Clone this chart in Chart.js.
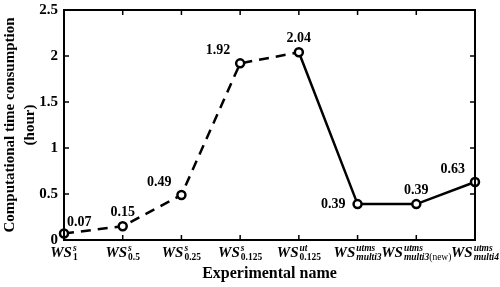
<!DOCTYPE html>
<html>
<head>
<meta charset="utf-8">
<script src="https://cdn.jsdelivr.net/npm/chart.js@4/dist/chart.umd.min.js"></script>
<style>
  html, body { margin: 0; padding: 0; background: #fff; }
  #wrap { width: 500px; height: 287px; }
</style>
</head>
<body>
<div id="wrap"><canvas id="timeChart"></canvas></div>
<script>
// experiment names: base text, superscript, subscript
const nameBase = ['WS', 'WS', 'WS', 'WS', 'WS', 'WS', 'WS', 'WS'];
const nameSup = ['s', 's', 's', 's', 'ut', 'utms', 'utms', 'utms'];
const nameSub = ['1', '0.5', '0.25', '0.125', '0.125', 'multi3', 'multi3(new)', 'multi4'];

// computational time (hour)
const hours = [0.07, 0.15, 0.49, 1.92, 2.04, 0.39, 0.39, 0.63];
const valueText = ['0.07', '0.15', '0.49', '1.92', '2.04', '0.39', '0.39', '0.63'];
// where each value label sits relative to its point
const labelSide = ['right', 'top', 'topleft', 'topleft', 'top', 'left', 'top', 'topleft'];

const yTicks = [0, 0.5, 1, 1.5, 2, 2.5];
const yTickText = ['0', '0.5', '1', '1.5', '2', '2.5'];
const dashedUntil = 4; // segments before this index are dashed

const SERIF = '"Liberation Serif", "DejaVu Serif", serif';

const boxPlugin = {
  id: 'box',
  afterDraw(chart) {
    const { ctx, chartArea: a, scales } = chart;
    ctx.save();
    ctx.strokeStyle = '#000';
    ctx.lineWidth = 2;
    ctx.strokeRect(a.left, a.top, a.right - a.left, a.bottom - a.top);
    ctx.lineWidth = 1.5;
    ctx.beginPath();
    scales.x.ticks.forEach((t, i) => {
      const x = scales.x.getPixelForTick(i);
      ctx.moveTo(x, a.bottom); ctx.lineTo(x, a.bottom - 5);
      ctx.moveTo(x, a.top); ctx.lineTo(x, a.top + 5);
    });
    scales.y.ticks.forEach((t, i) => {
      const y = scales.y.getPixelForTick(i);
      ctx.moveTo(a.left, y); ctx.lineTo(a.left + 5, y);
      ctx.moveTo(a.right, y); ctx.lineTo(a.right - 5, y);
    });
    ctx.stroke();
    ctx.restore();
  }
};

function subParts(s) {
  const parts = [];
  const re = /(\([a-z]+\))|([a-z]+[0-9]*)|([0-9.]+)/g;
  let m;
  while ((m = re.exec(s))) {
    if (m[1]) parts.push({ t: m[1], f: '9.5px ' + SERIF });
    else if (m[2]) parts.push({ t: m[2], f: 'italic bold 9.5px ' + SERIF });
    else parts.push({ t: m[3], f: 'bold 9.5px ' + SERIF });
  }
  return parts;
}

const nameLabelPlugin = {
  id: 'nameLabels',
  afterDraw(chart) {
    const { ctx, scales, chartArea: a } = chart;
    ctx.save();
    ctx.fillStyle = '#000';
    ctx.textBaseline = 'alphabetic';
    ctx.textAlign = 'left';
    const base = a.bottom + 17;
    nameBase.forEach((b, i) => {
      const x = scales.x.getPixelForValue(i);
      const fBase = 'italic bold 15px ' + SERIF;
      const fSup = 'italic bold 9.5px ' + SERIF;
      ctx.font = fBase;
      const wb = ctx.measureText(b).width;
      ctx.font = fSup;
      const ws = ctx.measureText(nameSup[i]).width;
      const parts = subParts(nameSub[i]);
      let wsub = 0;
      parts.forEach(p => { ctx.font = p.f; p.w = ctx.measureText(p.t).width; wsub += p.w; });
      let x0 = x - (wb + Math.max(ws, wsub) + 1) / 2;
      ctx.font = fBase;
      ctx.fillText(b, x0, base);
      x0 += wb + 1;
      ctx.font = fSup;
      ctx.fillText(nameSup[i], x0, base - 6);
      let xs = x0;
      parts.forEach(p => { ctx.font = p.f; ctx.fillText(p.t, xs, base + 3); xs += p.w; });
    });
    ctx.restore();
  }
};

const valueLabelPlugin = {
  id: 'valueLabels',
  afterDatasetsDraw(chart) {
    const { ctx } = chart;
    const meta = chart.getDatasetMeta(0);
    ctx.save();
    ctx.fillStyle = '#000';
    ctx.font = 'bold 14px ' + SERIF;
    meta.data.forEach((pt, i) => {
      const side = labelSide[i];
      let x = pt.x, y = pt.y;
      if (side === 'right') { ctx.textAlign = 'left'; ctx.textBaseline = 'bottom'; x += 3; y -= 4; }
      else if (side === 'top') { ctx.textAlign = 'center'; ctx.textBaseline = 'bottom'; y -= 7; }
      else if (side === 'topleft') { ctx.textAlign = 'right'; ctx.textBaseline = 'bottom'; x -= 10; y -= 6; }
      else if (side === 'left') { ctx.textAlign = 'right'; ctx.textBaseline = 'middle'; x -= 12; }
      ctx.fillText(valueText[i], x, y);
    });
    ctx.restore();
  }
};

new Chart(document.getElementById('timeChart'), {
  type: 'line',
  data: {
    labels: nameBase.map((b, i) => b + '_' + nameSub[i] + '^' + nameSup[i]),
    datasets: [{
      data: hours,
      borderColor: '#000',
      borderWidth: 2.5,
      pointRadius: 4,
      pointBorderWidth: 2.5,
      pointBackgroundColor: '#fff',
      pointBorderColor: '#000',
      clip: false,
      segment: {
        borderDash: ctx => ctx.p0DataIndex < dashedUntil ? [10, 7] : undefined
      }
    }]
  },
  options: {
    responsive: true,
    maintainAspectRatio: false,
    animation: false,
    layout: { padding: { top: 10, right: 25, left: 0, bottom: 0 } },
    plugins: { legend: { display: false }, tooltip: { enabled: false } },
    scales: {
      x: {
        offset: false,
        grid: { display: false, drawTicks: false },
        border: { display: false },
        ticks: { display: false },
        title: {
          display: true,
          text: 'Experimental name',
          color: '#000',
          font: { family: SERIF, size: 16, weight: 'bold' },
          padding: { top: 0, bottom: 4 }
        },
        afterFit: s => { s.height = 47; }
      },
      y: {
        min: 0,
        max: 2.5,
        grid: { display: false, drawTicks: false },
        border: { display: false },
        afterBuildTicks: s => { s.ticks = yTicks.map(v => ({ value: v })); },
        ticks: {
          color: '#000',
          padding: 6,
          font: { family: SERIF, size: 15, weight: 'bold' },
          callback: (v, i) => yTickText[i]
        },
        title: {
          display: true,
          text: ['Computational time consumption', '(hour)'],
          color: '#000',
          font: { family: SERIF, size: 15, weight: 'bold', lineHeight: 1.35 },
          padding: { top: 0, bottom: 0 }
        },
        afterFit: s => { s.width = 64; s.paddingTop = 0; s.paddingBottom = 0; }
      }
    }
  },
  plugins: [boxPlugin, nameLabelPlugin, valueLabelPlugin]
});
</script>
</body>
</html>
